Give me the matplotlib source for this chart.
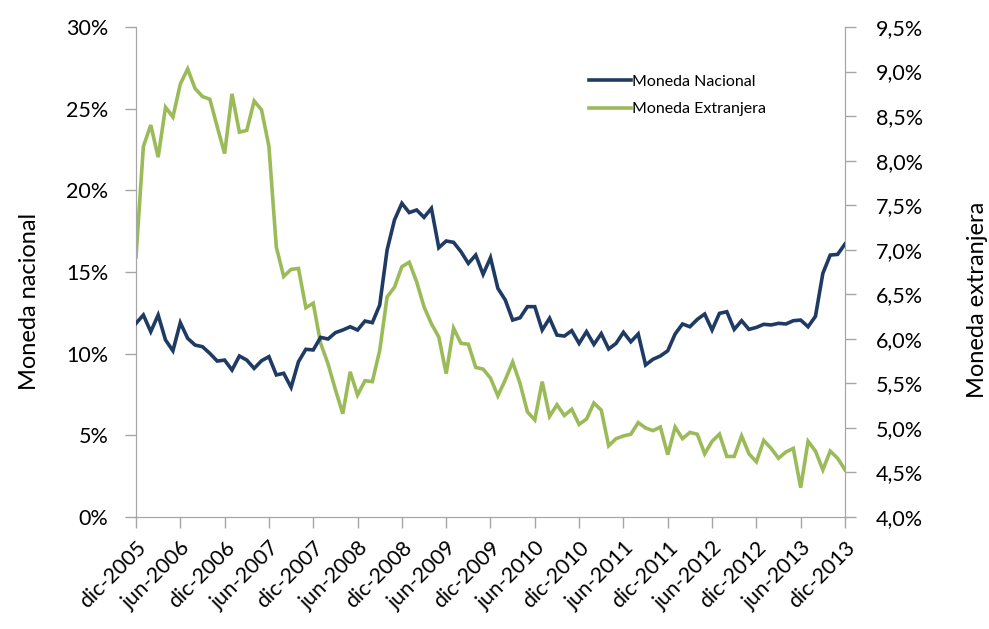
import numpy as np
import matplotlib
matplotlib.use("Agg")
import matplotlib.pyplot as plt
from matplotlib.ticker import FuncFormatter, MultipleLocator

plt.rcParams['font.family'] = ['Lato', 'DejaVu Sans']

# monthly series, dic-2005 .. dic-2013 (in %)
nacional = [11.86, 12.37, 11.35, 12.37, 10.84, 10.18, 11.90, 10.94, 10.53, 10.43,
            10.02, 9.55, 9.61, 9.00, 9.86, 9.61, 9.10, 9.57, 9.82, 8.70,
            8.80, 7.94, 9.51, 10.27, 10.23, 11.00, 10.90, 11.29, 11.45, 11.65,
            11.45, 12.00, 11.90, 12.98, 16.35, 18.19, 19.21, 18.64, 18.80, 18.35,
            18.90, 16.49, 16.90, 16.82, 16.25, 15.53, 16.04, 14.86, 15.88, 14.00,
            13.29, 12.06, 12.20, 12.88, 12.88, 11.45, 12.17, 11.14, 11.08, 11.41,
            10.63, 11.35, 10.57, 11.23, 10.29, 10.63, 11.31, 10.73, 11.21, 9.31,
            9.66, 9.86, 10.18, 11.21, 11.82, 11.65, 12.10, 12.43, 11.45, 12.47,
            12.57, 11.49, 12.02, 11.49, 11.61, 11.80, 11.76, 11.86, 11.82, 12.02,
            12.06, 11.65, 12.29, 14.92, 16.04, 16.08, 16.72]

extranjera = [6.92, 8.16, 8.40, 8.04, 8.60, 8.49, 8.86, 9.03, 8.81, 8.72,
              8.69, 8.38, 8.08, 8.75, 8.32, 8.34, 8.67, 8.57, 8.16, 7.03,
              6.70, 6.78, 6.79, 6.35, 6.40, 5.95, 5.72, 5.43, 5.16, 5.63,
              5.37, 5.53, 5.52, 5.87, 6.47, 6.58, 6.81, 6.86, 6.64, 6.36,
              6.17, 6.02, 5.61, 6.12, 5.95, 5.94, 5.68, 5.66, 5.56, 5.36,
              5.54, 5.74, 5.50, 5.18, 5.09, 5.52, 5.13, 5.26, 5.14, 5.21,
              5.04, 5.10, 5.28, 5.20, 4.80, 4.88, 4.91, 4.93, 5.06, 5.00,
              4.97, 5.01, 4.70, 5.01, 4.88, 4.95, 4.93, 4.71, 4.85, 4.93,
              4.68, 4.68, 4.91, 4.71, 4.62, 4.86, 4.77, 4.66, 4.73, 4.77,
              4.33, 4.85, 4.74, 4.53, 4.74, 4.66, 4.53]

tick_labels = ['dic-2005', 'jun-2006', 'dic-2006', 'jun-2007', 'dic-2007', 'jun-2008',
               'dic-2008', 'jun-2009', 'dic-2009', 'jun-2010', 'dic-2010', 'jun-2011',
               'dic-2011', 'jun-2012', 'dic-2012', 'jun-2013', 'dic-2013']

navy = '#1F3B63'
green = '#9BBB59'
grey = '#A6A6A6'

x = np.arange(len(nacional))

fig = plt.figure(figsize=(9.89, 6.29), dpi=100)
ax = fig.add_axes([0.1375, 0.178, 0.7169, 0.779])
ax2 = ax.twinx()

l1, = ax.plot(x, nacional, color=navy, lw=2.6, solid_joinstyle='miter', zorder=3)
l2, = ax2.plot(x, extranjera, color=green, lw=2.6, solid_joinstyle='miter')
ax.set_zorder(ax2.get_zorder() + 1)
ax.patch.set_visible(False)

ax.set_xlim(0, len(nacional) - 1)
ax.set_ylim(0, 30)
ax2.set_ylim(4.0, 9.5)
ax.yaxis.set_major_locator(MultipleLocator(5))
ax2.yaxis.set_major_locator(MultipleLocator(0.5))
ax.yaxis.set_major_formatter(FuncFormatter(lambda v, p: '%d%%' % round(v)))
ax2.yaxis.set_major_formatter(FuncFormatter(lambda v, p: ('%.1f%%' % v).replace('.', ',')))

ax.set_xticks(np.arange(0, len(nacional), 6))
ax.set_xticklabels(tick_labels, rotation=45, ha='right', rotation_mode='anchor')

for a in (ax, ax2):
    for s in a.spines.values():
        s.set_color(grey)
    a.spines['top'].set_visible(False)
    a.tick_params(colors=grey, labelcolor='black', labelsize=15.5, length=8, width=1, direction='out')
ax.tick_params(axis='y', pad=12)
ax2.tick_params(axis='y', pad=14)
ax.tick_params(axis='x', pad=7, labelsize=15.5)

fig.text(30 / 989, 1 - 301 / 629, 'Moneda nacional', fontsize=17, rotation=90,
         ha='center', va='center')
fig.text(978 / 989, 1 - 300 / 629, 'Moneda extranjera', fontsize=17, rotation=90,
         ha='center', va='center')

fig.legend([l1, l2], ['Moneda Nacional', 'Moneda Extranjera'], loc='upper left',
           bbox_to_anchor=(575 / 989, 1 - 60 / 629), frameon=False, fontsize=11.5,
           handlelength=2.6, handletextpad=0.1, labelspacing=0.85)

fig.savefig('out.png', dpi=100)
